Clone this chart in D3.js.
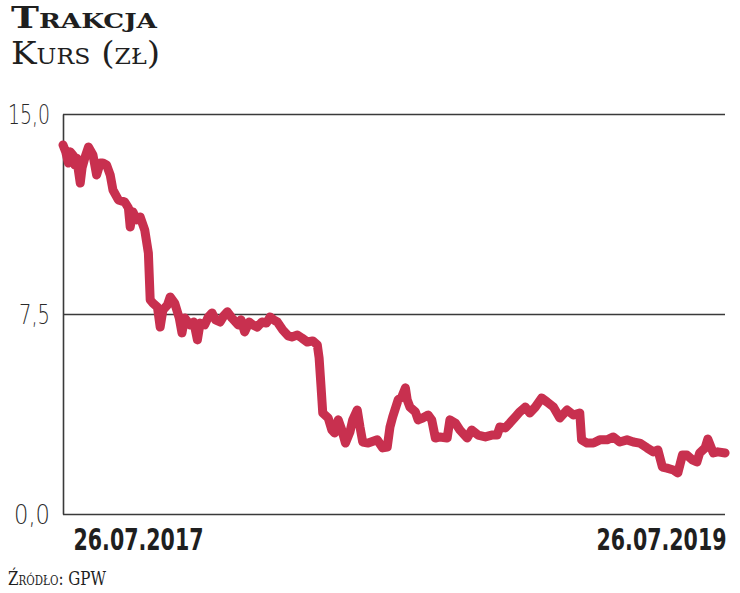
<!DOCTYPE html>
<html>
<head>
<meta charset="utf-8">
<script src="https://cdn.jsdelivr.net/npm/d3@7"></script>
<style>
  body { margin: 0; background: #fff; }
  svg { display: block; }
  .title { font-family: "DejaVu Serif", serif; font-variant: small-caps; fill: #1f1f1f; }
  .ylab text { font-family: "DejaVu Sans", sans-serif; font-stretch: condensed; font-size: 26px; font-weight: 300; fill: #2a2a2a; }
  .xlab text { font-family: "DejaVu Sans", sans-serif; font-stretch: condensed; font-size: 31px; font-weight: bold; fill: #1f1f1f; }
</style>
</head>
<body>
<svg width="740" height="593"></svg>
<script>
// dni od 26.07.2017 i kurs (zł)
const days = [0, 3, 6, 8, 11, 13, 15, 19, 21, 24, 28, 33, 37, 41, 44, 48, 52, 55, 61, 68,
  72, 74, 77, 81, 85, 90, 94, 96, 99, 104, 107, 110, 115, 118, 123, 128, 131, 134, 140, 144,
  148, 151, 156, 160, 164, 168, 173, 177, 181, 186, 193, 196, 200, 205, 209, 214, 219, 224, 228, 232,
  236, 242, 248, 252, 258, 263, 269, 275, 280, 282, 284, 286, 292, 296, 299, 303, 307, 311, 316, 319,
  324, 327, 330, 336, 346, 352, 357, 360, 363, 369, 373, 377, 379, 382, 388, 391, 396, 402, 406, 410,
  415, 423, 426, 432, 437, 445, 450, 457, 465, 472, 478, 481, 487, 492, 498, 503, 509, 514, 520, 527,
  533, 540, 547, 555, 562, 569, 571, 577, 584, 591, 599, 606, 613, 621, 628, 635, 643, 650, 655, 660,
  665, 672, 677, 682, 687, 693, 698, 701, 707, 710, 716, 721, 729];
const prices = [13.84, 13.58, 13.16, 13.58, 13.46, 13.09, 13.35, 12.41, 12.98, 13.35, 13.76, 13.46, 12.71, 13.16, 13.16, 13.09, 12.71, 12.15, 11.78, 11.70,
  11.48, 10.76, 11.33, 11.03, 11.14, 10.65, 9.79, 8.03, 7.91, 7.76, 7.01, 7.65, 7.84, 8.14, 7.91, 7.35, 6.79, 7.35, 7.09, 7.20,
  6.53, 7.16, 7.09, 7.39, 7.54, 7.28, 7.20, 7.43, 7.58, 7.35, 7.09, 7.28, 6.83, 7.20, 7.09, 7.01, 7.20, 7.16, 7.39, 7.28,
  7.20, 6.90, 6.68, 6.64, 6.71, 6.60, 6.45, 6.49, 6.34, 5.85, 4.84, 3.79, 3.60, 3.15, 3.04, 3.53, 3.15, 2.66, 3.08, 3.53,
  3.90, 3.26, 2.70, 2.66, 2.78, 2.48, 2.51, 3.26, 3.64, 4.28, 4.39, 4.73, 4.28, 4.01, 3.83, 3.53, 3.60, 3.71, 3.53, 2.85,
  2.89, 2.85, 3.53, 3.41, 3.15, 2.85, 3.15, 2.96, 2.89, 2.96, 2.96, 3.26, 3.23, 3.41, 3.64, 3.83, 4.01, 3.79, 4.01, 4.35,
  4.20, 4.01, 3.60, 3.90, 3.71, 3.79, 2.78, 2.66, 2.66, 2.78, 2.78, 2.89, 2.70, 2.78, 2.70, 2.66, 2.48, 2.33, 2.40, 1.76,
  1.72, 1.65, 1.54, 2.21, 2.21, 2.03, 1.95, 2.29, 2.48, 2.81, 2.29, 2.33, 2.29];
const yTicks = [0, 7.5, 15];
const dateLabels = ["26.07.2017", "26.07.2019"];

const parseDate = d3.timeParse("%d.%m.%Y");
const startDate = parseDate(dateLabels[0]);
const data = days.map((d, i) => ({ date: d3.timeDay.offset(startDate, d), v: prices[i] }));

const svg = d3.select("svg");
const m = { left: 63, right: 726, top: 114, bottom: 514 };

const x = d3.scaleTime()
  .domain(dateLabels.map(parseDate))
  .range([m.left, m.right]);
const y = d3.scaleLinear().domain([0, 15]).range([m.bottom, m.top]);

const pl = d3.formatLocale({ decimal: ",", thousands: " ", grouping: [3], currency: ["", " zł"] });

// tytuł
svg.append("text").attr("class", "title")
  .attr("x", 11).attr("y", 28)
  .style("font-size", "30px").style("font-weight", "bold")
  .attr("textLength", 146).attr("lengthAdjust", "spacingAndGlyphs")
  .text("Trakcja");
svg.append("text").attr("class", "title")
  .attr("x", 11).attr("y", 64)
  .style("font-size", "32px")
  .attr("textLength", 149).attr("lengthAdjust", "spacingAndGlyphs")
  .text("Kurs (zł)");

// oś Y + linie siatki
const yAxis = svg.append("g")
  .attr("class", "ylab")
  .attr("transform", `translate(${m.left},0)`)
  .call(d3.axisLeft(y).tickValues(yTicks).tickFormat(pl.format(".1f"))
    .tickSizeInner(-(m.right - m.left - 1)).tickSizeOuter(0).tickPadding(13));
yAxis.selectAll("line").attr("stroke", "#3a3a3a").attr("stroke-width", 1.6);
yAxis.select(".domain").attr("stroke", "#3a3a3a").attr("stroke-width", 1.6);
yAxis.selectAll("text")
  .attr("dy", "0.36em")
  .attr("textLength", d => (d === 15 ? 42 : d === 0 ? 36 : 31))
  .attr("lengthAdjust", "spacingAndGlyphs");

// oś X - tylko etykiety
const labelW = 130;
const xAxis = svg.append("g")
  .attr("class", "xlab")
  .attr("transform", `translate(0,${m.bottom})`)
  .call(d3.axisBottom(x).tickValues(dateLabels.map(parseDate))
    .tickFormat(d3.timeFormat("%d.%m.%Y")).tickSize(0).tickPadding(0));
xAxis.select(".domain").remove();
xAxis.selectAll("text")
  .attr("dy", null)
  .attr("y", 36)
  .attr("text-anchor", "start")
  .attr("dx", (d, i) => (i === 0 ? 10 : -labelW))
  .attr("textLength", labelW)
  .attr("lengthAdjust", "spacingAndGlyphs");

// linia kursu
const line = d3.line().x(d => x(d.date)).y(d => y(d.v));
svg.append("path")
  .datum(data)
  .attr("d", line)
  .attr("fill", "none")
  .attr("stroke", "#c8304f")
  .attr("stroke-width", 9)
  .attr("stroke-linejoin", "round")
  .attr("stroke-linecap", "round");

// źródło
svg.append("text").attr("class", "title")
  .attr("x", 8).attr("y", 585)
  .style("font-size", "19px")
  .attr("textLength", 98).attr("lengthAdjust", "spacingAndGlyphs")
  .text("Źródło: GPW");
</script>
</body>
</html>
